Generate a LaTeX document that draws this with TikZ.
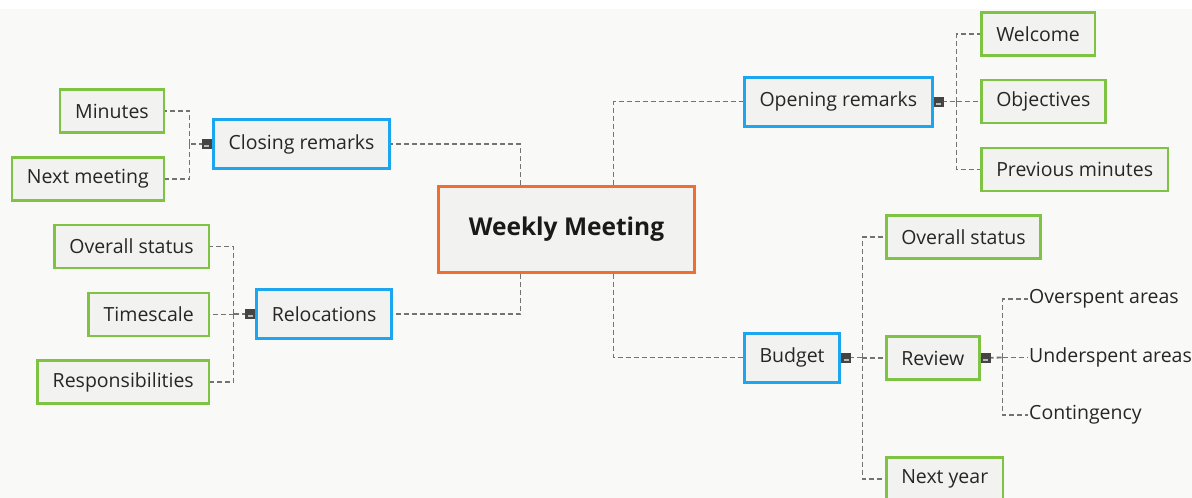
\documentclass[tikz,border=0pt]{standalone}
\usepackage{fontspec}
\setmainfont{Open Sans}
\usetikzlibrary{positioning}

\definecolor{bgpage}{RGB}{249,250,248}
\definecolor{boxfill}{RGB}{242,242,240}
\definecolor{mainline}{RGB}{240,110,50}
\definecolor{topicline}{RGB}{28,166,240}
\definecolor{subline}{RGB}{126,196,66}
\definecolor{linkgray}{RGB}{115,115,115}
\definecolor{markgray}{RGB}{68,68,68}

\tikzset{
	mainbox/.style={draw=mainline, line width=3, fill=boxfill, minimum width=256, minimum height=86, text=black!90, font=\fontsize{24.5}{28}\selectfont\bfseries},
	topicbox/.style={draw=topicline, line width=3, fill=boxfill, minimum height=49, inner xsep=15, text=black!85, font=\fontsize{19.5}{23}\selectfont},
	subbox/.style={draw=subline, line width=2.5, fill=boxfill, minimum height=43, inner xsep=15, text=black!85, font=\fontsize{19.5}{23}\selectfont},
	leaf/.style={inner xsep=1, text=black!85, font=\fontsize{19.5}{23}\selectfont},
	link/.style={draw=linkgray, line width=1.8, dash pattern=on 5 off 3},
	marker/.style={fill=markgray, minimum size=10, inner sep=0, path picture={\fill [gray!55] ([xshift=-2.5, yshift=-1]path picture bounding box.center) rectangle ++(5,2);}}
}

\begin{document}
\begin{tikzpicture}[x=1pt, y=-1pt]
	\fill [bgpage] (0,0) rectangle (1192,498);
	\fill [white] (0,0) rectangle (1192,9);
	\useasboundingbox (0,0) rectangle (1192,498);

	\node [mainbox] (main) at (566.5,229) {Weekly Meeting};

	\node [topicbox, anchor=west] (open) at (743,101.5) {Opening remarks};
	\node [topicbox, anchor=west] (budget) at (743,357.5) {Budget};
	\node [topicbox, anchor=east] (close) at (391,144) {Closing remarks};
	\node [topicbox, anchor=east] (reloc) at (393,314) {Relocations};

	\node [subbox, anchor=west] (welcome) at (980,34) {Welcome};
	\node [subbox, anchor=west] (objectives) at (980,101.5) {Objectives};
	\node [subbox, anchor=west] (prevmin) at (980,169.5) {Previous minutes};

	\node [subbox, anchor=west] (overall) at (885,237) {Overall status};
	\node [subbox, anchor=west] (review) at (885,358) {Review};
	\node [subbox, anchor=west] (nextyear) at (885,479) {Next year};

	\node [leaf, anchor=west] (overspent) at (1028,299) {Overspent areas};
	\node [leaf, anchor=west] (underspent) at (1028,357.5) {Underspent areas};
	\node [leaf, anchor=west] (contingency) at (1028,415) {Contingency};

	\node [subbox, anchor=east] (minutes) at (165,111) {Minutes};
	\node [subbox, anchor=east] (nextmeet) at (165,179) {Next meeting};

	\node [subbox, anchor=east] (status) at (210,246.5) {Overall status};
	\node [subbox, anchor=east] (timescale) at (210,314.5) {Timescale};
	\node [subbox, anchor=east] (duties) at (210,382) {Responsibilities};

	\coordinate (jopen) at (956.5,101.5);
	\coordinate (jbudget) at (862.5,357.5);
	\coordinate (jreview) at (1002.5,357.5);
	\coordinate (jclose) at (189.5,144);
	\coordinate (jreloc) at (233.5,314);

	\draw [link] ([xshift=47]main.north) |- (open.west);
	\draw [link] ([xshift=47]main.south) |- (budget.west);
	\draw [link] ([xshift=-46]main.north) |- (close.east);
	\draw [link] ([xshift=-46]main.south) |- (reloc.east);

	\draw [link] (open.east) -- (jopen);
	\foreach \n in {welcome, objectives, prevmin}
		\draw [link] (jopen) |- (\n.west);

	\draw [link] (budget.east) -- (jbudget);
	\foreach \n in {overall, review, nextyear}
		\draw [link] (jbudget) |- (\n.west);

	\draw [link] (review.east) -- (jreview);
	\foreach \n in {overspent, underspent, contingency}
		\draw [link] (jreview) |- (\n.west);

	\draw [link] (close.west) -- (jclose);
	\foreach \n in {minutes, nextmeet}
		\draw [link] (jclose) |- (\n.east);

	\draw [link] (reloc.west) -- (jreloc);
	\foreach \n in {status, timescale, duties}
		\draw [link] (jreloc) |- (\n.east);

	\node [marker, right=0pt of open] {};
	\node [marker, right=0pt of budget] {};
	\node [marker, right=0pt of review] {};
	\node [marker, left=0pt of close] {};
	\node [marker, left=0pt of reloc] {};
\end{tikzpicture}
\end{document}
